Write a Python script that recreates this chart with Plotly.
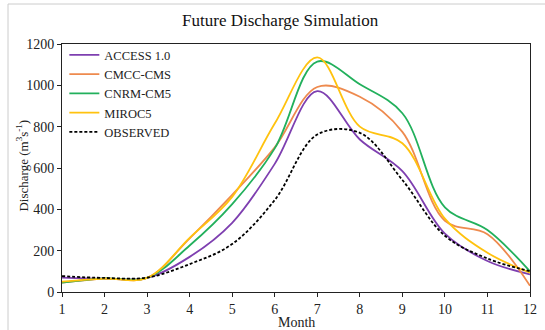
import plotly.graph_objects as go

months = [1, 2, 3, 4, 5, 6, 7, 8, 9, 10, 11, 12]
access = [70, 65, 68, 170, 335, 620, 972, 738, 585, 282, 150, 85]
cmcc = [45, 65, 68, 260, 470, 700, 992, 945, 775, 345, 280, 30]
cnrm = [45, 66, 68, 225, 425, 695, 1115, 1005, 865, 410, 300, 100]
miroc = [50, 65, 68, 262, 460, 815, 1135, 800, 720, 355, 190, 93]
observed = [77, 68, 70, 135, 232, 445, 762, 770, 542, 272, 162, 100]

series = [
    ("ACCESS 1.0", access, "#7E3FB0", None),
    ("CMCC-CMS", cmcc, "#EE8A4E", None),
    ("CNRM-CM5", cnrm, "#22B05C", None),
    ("MIROC5", miroc, "#FFC20E", None),
    ("OBSERVED", observed, "#000000", "3px,2px"),
]

fig = go.Figure()
for name, vals, color, dash in series:
    fig.add_trace(go.Scatter(
        x=months, y=vals, name=name, mode="lines",
        line=dict(color=color, width=1.8, shape="spline", smoothing=1.0,
                  dash=dash if dash else "solid"),
    ))

serif = "Liberation Serif, Times New Roman, serif"
W, H = 545, 330
L, R, T, B = 62, 15, 44, 38
pw, ph = W - L - R, H - T - B

fig.update_layout(
    width=W, height=H,
    margin=dict(l=L, r=R, t=T, b=B, autoexpand=False),
    paper_bgcolor="white", plot_bgcolor="white",
    font=dict(family=serif, size=14, color="#222"),
    title=dict(text="Future Discharge Simulation", x=0.514, xanchor="center",
               y=0.94, yanchor="middle", font=dict(family=serif, size=17, color="#111")),
    showlegend=True,
    legend=dict(x=0.005, y=1.015, xanchor="left", yanchor="top",
                bgcolor="rgba(255,255,255,0)", font=dict(family=serif, size=12.5, color="#222"),
                tracegroupgap=0, itemwidth=30),
    xaxis=dict(range=[1, 12], tickmode="array", tickvals=months,
               ticktext=[str(m) for m in months], automargin=False,
               showline=True, linecolor="#222", linewidth=1, mirror=True,
               ticks="outside", ticklen=4, tickcolor="#222", showgrid=False, zeroline=False,
               tickfont=dict(family=serif, size=14)),
    yaxis=dict(range=[0, 1200], tickvals=[0, 200, 400, 600, 800, 1000, 1200],
               automargin=False,
               showline=True, linecolor="#222", linewidth=1, mirror=True,
               ticks="outside", ticklen=4, tickcolor="#222", showgrid=False, zeroline=False,
               tickfont=dict(family=serif, size=14)),
    annotations=[
        dict(text="Month", xref="paper", yref="paper", x=0.5, y=(H - B - 322) / ph,
             xanchor="center", yanchor="middle", showarrow=False,
             font=dict(family=serif, size=14, color="#222")),
        dict(text="Discharge (m<sup>3</sup>s<sup>-1</sup>)", xref="paper", yref="paper",
             x=(22 - L) / pw, y=0.51, xanchor="center", yanchor="middle", textangle=-90,
             showarrow=False, font=dict(family=serif, size=13, color="#222")),
    ],
    shapes=[dict(type="rect", xref="paper", yref="paper",
                 x0=(8 - L) / pw, x1=1.1, y0=-0.3, y1=(H - B - 4) / ph,
                 line=dict(color="#cccccc", width=1), fillcolor="rgba(0,0,0,0)", layer="below")],
)

fig.write_html("out.html", config={"displayModeBar": False},
               post_script="document.body.style.margin='0';document.body.style.overflow='hidden';")
